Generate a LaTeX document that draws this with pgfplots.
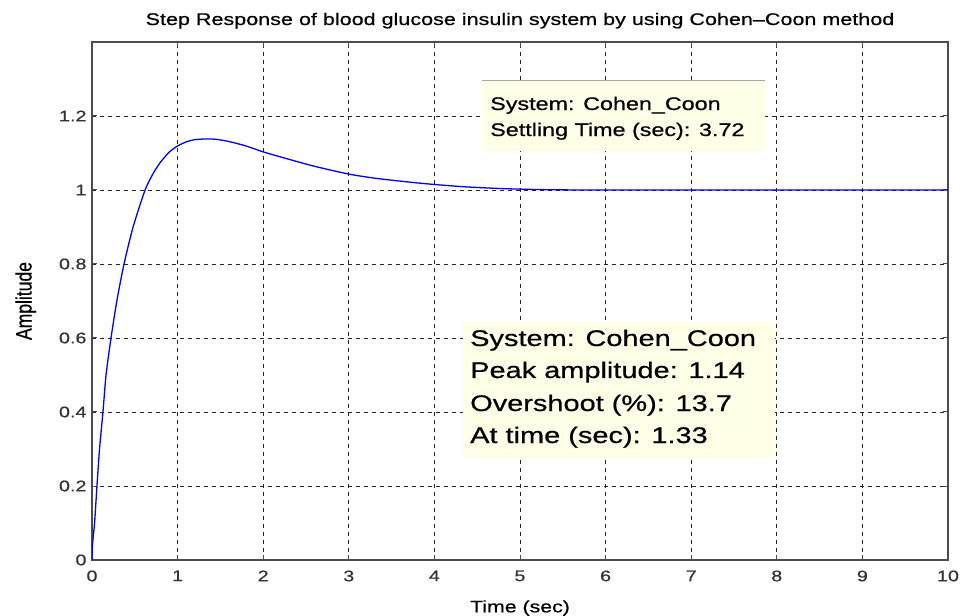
\documentclass[border=0pt]{standalone}
\usepackage{fontspec}
\setmainfont{Liberation Sans}[FakeStretch=1.28, FakeBold=0.6]
\newfontfamily\plain{Liberation Sans}[FakeBold=0.6]
\usepackage{pgfplots}
\pgfplotsset{compat=1.18}
\definecolor{tipbg}{HTML}{FFFFE8}
\definecolor{curve}{HTML}{0000FF}
\begin{document}
\begin{tikzpicture}
\useasboundingbox (-92bp,-56bp) rectangle (871bp,560bp);
\begin{axis}[
  at={(0,0)}, anchor=south west,
  scale only axis, width=856bp, height=518bp,
  xmin=0, xmax=10, ymin=0, ymax=1.4,
  xtick={0,1,2,3,4,5,6,7,8,9,10},
  ytick={0,0.2,0.4,0.6,0.8,1,1.2},
  yticklabels={0,0.2,0.4,0.6,0.8,1,1.2},
  xmajorgrids, ymajorgrids,
  major grid style={black!85, dash pattern=on 4bp off 4bp, line width=0.9bp},
  tick align=inside, major tick length=5bp,
  tick style={black!70, line width=1bp},
  axis line style={black!70, line width=1.3bp},
  /pgf/number format/assume math mode=true,
  ticklabel style={font=\fontsize{15.5}{17}\selectfont, text=black!80},
  xticklabel style={yshift=-7bp},
  yticklabel style={xshift=-2bp},
  title={Step Response of blood glucose insulin system by using Cohen--Coon method},
  title style={font=\fontsize{16.9}{19}\selectfont, yshift=4bp},
  xlabel={Time (sec)},
  xlabel style={font=\fontsize{16.7}{19}\selectfont, yshift=-12bp},
  ylabel={\scalebox{1.1}[1.4]{\plain\fontsize{16}{18}\selectfont Amplitude}},
  ylabel style={yshift=16bp},
]
\addplot[curve, line width=1.3bp, smooth, tension=0.4] coordinates {
(0,0) (0.005,0.04) (0.03,0.1) (0.058,0.2) (0.088,0.3) (0.128,0.4) (0.164,0.5)
(0.222,0.6) (0.29,0.7) (0.374,0.8) (0.48,0.9) (0.62,1.0) (0.72,1.047) (0.8,1.075)
(0.9,1.102) (1.0,1.119) (1.1,1.130) (1.2,1.136) (1.33,1.138) (1.45,1.137)
(1.6,1.131) (1.8,1.119) (2.0,1.103) (2.3,1.083) (2.6,1.064) (3.0,1.043)
(3.3,1.032) (3.6,1.024) (3.85,1.018) (4.1,1.013) (4.4,1.008) (4.9,1.003)
(5.8,1.0) (10,1.0)
};
\fill[tipbg] (axis cs:4.556,1.105) rectangle (axis cs:7.862,1.297);
\draw[black!35, line width=0.8bp] (axis cs:4.556,1.297) -- (axis cs:7.862,1.297);
\node[anchor=base west, inner sep=0, font=\fontsize{18.3}{20}\selectfont] at (axis cs:4.650,1.2162) {System: Cohen\_Coon};
\node[anchor=base west, inner sep=0, font=\fontsize{18.3}{20}\selectfont] at (axis cs:4.650,1.1459) {Settling Time (sec): 3.72};
\fill[tipbg] (axis cs:4.334,0.276) rectangle (axis cs:7.979,0.643);
\node[anchor=base west, inner sep=0, font=\fontsize{22.7}{24}\selectfont] at (axis cs:4.416,0.5784) {System: Cohen\_Coon};
\node[anchor=base west, inner sep=0, font=\fontsize{22.7}{24}\selectfont] at (axis cs:4.416,0.4919) {Peak amplitude: 1.14};
\node[anchor=base west, inner sep=0, font=\fontsize{22.7}{24}\selectfont] at (axis cs:4.416,0.4027) {Overshoot (\%): 13.7};
\node[anchor=base west, inner sep=0, font=\fontsize{22.7}{24}\selectfont] at (axis cs:4.416,0.3162) {At time (sec): 1.33};
\end{axis}
\end{tikzpicture}
\end{document}
